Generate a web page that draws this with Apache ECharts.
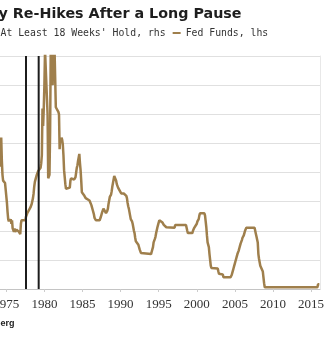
<!DOCTYPE html>
<html>
<head>
<meta charset="utf-8">
<script src="https://cdn.jsdelivr.net/npm/echarts@6/dist/echarts.min.js"></script>
<style>
  html, body { margin: 0; padding: 0; background: #fff; }
  #chart { width: 324px; height: 339px; }
</style>
</head>
<body>
<div id="chart"></div>
<script>
// Effective fed funds rate (%), month of each bend in the line
const fedMonths = [
  '1974-03','1974-04','1974-05','1974-06','1974-07','1974-08','1974-09','1974-10','1974-11','1974-12',
  '1975-01','1975-02','1975-03','1975-04','1975-05','1975-06','1975-07','1975-08','1975-09','1975-10','1975-11','1975-12',
  '1976-01','1976-02','1976-03','1976-04','1976-05','1976-06','1976-07','1976-08','1976-09','1976-10','1976-11','1976-12',
  '1977-01','1977-03','1977-07','1977-08','1977-10','1977-12',
  '1978-03','1978-05','1978-07','1978-08','1978-09','1978-10','1978-12',
  '1979-01','1979-03','1979-05','1979-07','1979-08','1979-09','1979-10','1979-11','1979-12',
  '1980-01','1980-02','1980-05','1980-06','1980-07','1980-08','1980-09','1980-10','1980-11',
  '1981-01','1981-02','1981-03','1981-04','1981-05','1981-06','1981-07','1981-09','1981-11','1981-12',
  '1982-01','1982-02','1982-03','1982-04','1982-05','1982-06','1982-07','1982-08','1982-09','1982-10','1982-11','1982-12',
  '1983-02','1983-05','1983-06','1983-07','1983-12',
  '1984-01','1984-02','1984-03','1984-04','1984-05','1984-06','1984-07','1984-08','1984-09','1984-10','1984-11','1984-12',
  '1985-01','1985-02','1985-04','1985-06','1985-07','1985-09','1985-12',
  '1986-01','1986-03','1986-05','1986-06','1986-07','1986-08','1986-09','1986-10',
  '1987-04','1987-05','1987-06','1987-07','1987-08','1987-10','1987-12',
  '1988-02','1988-04','1988-05','1988-06','1988-07','1988-08','1988-10','1988-11','1988-12',
  '1989-01','1989-02','1989-03','1989-04','1989-05','1989-06','1989-07','1989-09','1989-12',
  '1990-01','1990-02','1990-06','1990-09','1990-10','1990-11','1990-12',
  '1991-01','1991-02','1991-03','1991-04','1991-05','1991-07','1991-08','1991-09','1991-10','1991-11','1991-12',
  '1992-01','1992-03','1992-05','1992-06','1992-07','1992-09','1992-10',
  '1994-01','1994-02','1994-03','1994-04','1994-05','1994-07','1994-08','1994-09','1994-10','1994-11','1994-12',
  '1995-01','1995-02','1995-05','1995-07','1995-09','1995-12',
  '1996-01','1996-02','1997-02','1997-03','1998-08','1998-09','1998-10','1998-11',
  '1999-06','1999-07','1999-09','1999-11',
  '2000-01','2000-02','2000-04','2000-05','2000-06',
  '2001-01','2001-02','2001-03','2001-04','2001-05','2001-06','2001-08','2001-09','2001-10','2001-11','2001-12',
  '2002-01','2002-10','2002-11','2002-12','2003-01','2003-06','2003-07',
  '2004-06','2004-07','2004-08','2004-09','2004-10','2004-11','2004-12',
  '2005-01','2005-02','2005-03','2005-04','2005-05','2005-06','2005-07','2005-08','2005-09','2005-10','2005-11','2005-12',
  '2006-01','2006-02','2006-03','2006-04','2006-05','2006-06','2006-07',
  '2007-08','2007-09','2007-10','2007-11','2007-12',
  '2008-01','2008-02','2008-03','2008-04','2008-05','2008-07','2008-08','2008-09','2008-10','2008-11','2008-12',
  '2015-11','2015-12','2016-02'
];
const fedRate = [
  10.5,12.0,13.0,11.0,9.8,9.3,9.2,9.3,9.1,9.2,
  9.0,7.4,6.6,6.0,5.8,6.0,5.8,6.0,5.6,5.9,5.2,5.3,
  4.9,5.2,4.9,4.8,5.1,5.0,5.2,5.0,4.9,4.8,4.7,5.6,
  5.9,5.8,5.9,6.2,6.5,6.7,
  7.0,7.3,7.8,8.2,8.8,9.2,9.6,
  9.8,10.1,10.2,10.4,10.8,11.5,15.5,14.0,15.5,
  17.5,20.5,20.5,15.0,9.5,9.4,9.8,13.5,20.5,
  20.5,17.5,20.5,18.0,20.5,20.5,15.6,15.5,15.2,15.0,
  12.0,13.0,12.6,13.0,12.8,12.4,11.5,10.2,9.6,9.0,8.6,8.5,
  8.5,8.7,9.3,9.5,9.4,
  9.5,9.6,10.0,10.4,10.6,11.0,11.3,11.6,10.8,10.2,9.3,8.3,
  8.2,8.3,8.0,7.8,7.9,7.7,7.6,
  7.5,7.2,6.8,6.7,6.4,6.1,6.0,5.9,
  5.9,6.0,6.2,6.4,6.6,6.9,6.7,
  6.5,6.7,6.9,7.3,7.6,7.9,8.1,8.4,8.8,
  9.1,9.4,9.7,9.8,9.6,9.3,9.0,8.7,8.4,
  8.3,8.2,8.2,8.1,8.0,7.8,7.4,
  7.1,6.9,6.6,6.3,6.0,5.8,5.6,5.3,5.0,4.8,4.4,
  4.1,4.0,3.8,3.7,3.4,3.1,3.0,
  3.0,3.2,3.4,3.6,4.0,4.3,4.5,4.8,4.9,5.3,5.5,
  5.6,5.9,5.9,5.7,5.5,5.4,
  5.3,5.25,5.25,5.5,5.5,5.4,5.0,4.8,
  4.8,5.0,5.25,5.4,
  5.6,5.8,6.0,6.3,6.5,
  6.5,6.3,5.8,5.3,4.6,4.0,3.6,3.0,2.5,2.0,1.8,
  1.75,1.75,1.5,1.3,1.25,1.25,1.0,
  1.0,1.1,1.2,1.4,1.6,1.8,2.0,
  2.2,2.4,2.6,2.8,3.0,3.1,3.3,3.5,3.7,3.9,4.0,4.2,
  4.4,4.5,4.6,4.8,5.0,5.1,5.25,
  5.25,5.0,4.75,4.5,4.25,
  4.0,3.0,2.6,2.3,2.0,2.0,1.9,1.5,1.0,0.5,0.15,
  0.15,0.4,0.4
];
// Re-hikes that came after a hold of at least 18 weeks (rhs, drawn as full-height bars)
const holdMonths = ['1977-08', '1979-04'];
const holdFlag = [1, 1];
// Bottom axis year ticks
const yearTicks = [1970, 1975, 1980, 1985, 1990, 1995, 2000, 2005, 2010, 2015];

const toYear = s => {
  const [y, m] = s.split('-').map(Number);
  return y + (m - 1) / 12;
};

const fedData = fedMonths.map((m, i) => [toYear(m), fedRate[i]]);
const holdData = holdMonths.map((m, i) => [toYear(m), holdFlag[i]]);

const chart = echarts.init(document.getElementById('chart'), null, { renderer: 'canvas' });

chart.setOption({
  animation: false,
  backgroundColor: '#ffffff',
  title: {
    text: 'y Re-Hikes After a Long Pause',
    left: -1.5,
    top: 7.5,
    padding: 0,
    textStyle: {
      fontFamily: 'DejaVu Sans',
      fontWeight: 'bold',
      fontSize: 14.3,
      color: '#1e1e1e'
    }
  },
  legend: {
    left: -12.5,
    top: 28,
    padding: 0,
    icon: 'rect',
    itemWidth: 8,
    itemHeight: 2,
    itemGap: 7,
    selectedMode: false,
    textStyle: {
      fontFamily: 'DejaVu Sans Mono',
      fontSize: 9.8,
      color: '#333333'
    },
    data: ["At Least 18 Weeks' Hold, rhs", 'Fed Funds, lhs']
  },
  graphic: [{
    type: 'text',
    x: 14.5,
    y: 324,
    style: {
      text: 'Source: Bloomberg',
      font: 'bold 9px "Liberation Sans"',
      fill: '#222222',
      textAlign: 'right',
      textVerticalAlign: 'middle'
    }
  }],
  grid: {
    left: -31.8,
    right: 4,
    top: 56,
    bottom: 50,
    containLabel: false,
    outerBoundsMode: 'none'
  },
  xAxis: {
    type: 'value',
    min: 1970,
    max: 2016.17,
    interval: 5,
    axisLine: { lineStyle: { color: '#c4c4c4', width: 1 } },
    axisTick: { show: true, length: 3, lineStyle: { color: '#cccccc' } },
    axisLabel: {
      margin: 9,
      fontFamily: 'Liberation Serif',
      fontSize: 13,
      color: '#333333',
      showMaxLabel: false,
      formatter: v => (yearTicks.indexOf(v) >= 0 ? String(v) : '')
    },
    splitLine: { show: false }
  },
  yAxis: [{
    type: 'value',
    min: 0,
    max: 20,
    interval: 2.5,
    axisLine: { show: false },
    axisTick: { show: false },
    axisLabel: { show: false },
    splitLine: { lineStyle: { color: '#e0e0e0', width: 1 } }
  }, {
    type: 'value',
    min: 0,
    max: 1,
    position: 'right',
    axisLine: { show: true, lineStyle: { color: '#e8e8e8' } },
    axisTick: { show: false },
    axisLabel: { show: false },
    splitLine: { show: false }
  }],
  series: [{
    name: 'Fed Funds, lhs',
    type: 'line',
    data: fedData,
    yAxisIndex: 0,
    showSymbol: false,
    symbol: 'none',
    clip: true,
    lineStyle: { color: '#9f7f4c', width: 2.5 },
    itemStyle: { color: '#9f7f4c' },
    z: 2
  }, {
    name: "At Least 18 Weeks' Hold, rhs",
    type: 'bar',
    data: holdData,
    yAxisIndex: 1,
    barWidth: 2,
    itemStyle: { color: '#1c1c1c' },
    z: 3
  }]
});
</script>
</body>
</html>
